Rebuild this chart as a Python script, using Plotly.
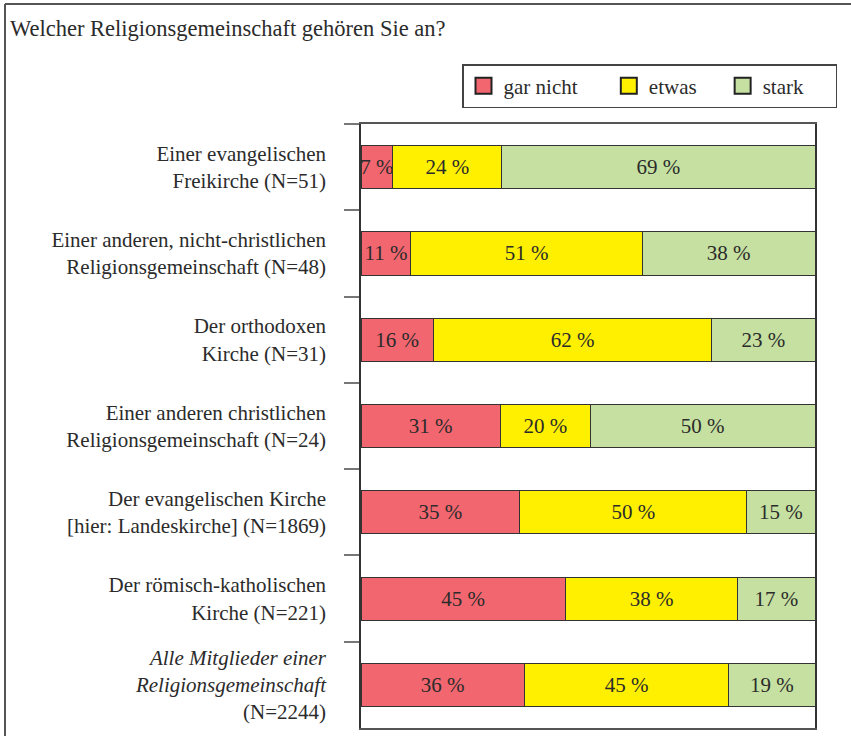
import plotly.graph_objects as go

categories = [
    "Einer evangelischen<br>Freikirche (N=51)",
    "Einer anderen, nicht-christlichen<br>Religionsgemeinschaft (N=48)",
    "Der orthodoxen<br>Kirche (N=31)",
    "Einer anderen christlichen<br>Religionsgemeinschaft (N=24)",
    "Der evangelischen Kirche<br>[hier: Landeskirche] (N=1869)",
    "Der römisch-katholischen<br>Kirche (N=221)",
    "<i>Alle Mitglieder einer<br>Religionsgemeinschaft</i><br>(N=2244)",
]

series_names = ["gar nicht", "etwas", "stark"]
gar_nicht = [7.0, 11.0, 15.9, 30.7, 35.0, 45.0, 36.0]
etwas = [24.0, 51.0, 61.4, 19.8, 50.0, 38.0, 45.0]
stark = [69.0, 38.0, 22.7, 49.5, 15.0, 17.0, 19.0]
gar_nicht_labels = ["7 %", "11 %", "16 %", "31 %", "35 %", "45 %", "36 %"]
etwas_labels = ["24 %", "51 %", "62 %", "20 %", "50 %", "38 %", "45 %"]
stark_labels = ["69 %", "38 %", "23 %", "50 %", "15 %", "17 %", "19 %"]
colors = ["#F2666F", "#FFF000", "#C5E0A0"]

FONT = "Liberation Serif"
TXT = "#2b2b2b"
FS = 21
legend_pad = ["\u00a0" * 5, "\u00a0" * 4, "\u00a0" * 5]

fig = go.Figure()
for name, vals, labels, col, pad in zip(series_names, [gar_nicht, etwas, stark],
                                        [gar_nicht_labels, etwas_labels, stark_labels],
                                        colors, legend_pad):
    fig.add_trace(go.Bar(
        x=vals, y=categories, orientation="h", name=name,
        text=labels, textposition="inside", insidetextanchor="middle",
        constraintext="none", textangle=0,
        textfont=dict(family=FONT, size=FS, color=TXT),
        marker=dict(color=col, line=dict(color="#333333", width=1)),
        showlegend=False, hoverinfo="skip",
    ))
    fig.add_trace(go.Scatter(
        x=[None], y=[None], mode="markers",
        name=name + pad,
        marker=dict(symbol="square", size=16, color=col, line=dict(color="#222222", width=2)),
        showlegend=True, hoverinfo="skip",
    ))

L, R, T, B = 361, 36, 124, 8
W, H = 851, 736
pw, ph = W - L - R, H - T - B

def px_x(p):
    return (p - L) / pw

def px_y(p):
    return (H - B - p) / ph

fig.update_layout(
    width=W, height=H,
    margin=dict(l=L, r=R, t=T, b=B),
    paper_bgcolor="white", plot_bgcolor="white",
    barmode="stack", bargap=0.5,
    font=dict(family=FONT, size=FS, color=TXT),
    title=dict(text="Welcher Religionsgemeinschaft gehören Sie an?",
               x=10 / W, xanchor="left", xref="container",
               y=1 - 28 / H, yanchor="middle", yref="container",
               font=dict(family=FONT, size=22.5, color=TXT)),
    legend=dict(orientation="h", x=px_x(462), y=px_y(64), xanchor="left", yanchor="top",
                traceorder="normal",
                bordercolor="#444444", borderwidth=1.5, itemsizing="trace",
                font=dict(family=FONT, size=FS, color=TXT), bgcolor="white"),
    xaxis=dict(range=[0, 100], showgrid=False, zeroline=False, showticklabels=False,
               ticks="", showline=True, mirror=True, linecolor="#555555", linewidth=1.5,
               fixedrange=True),
    yaxis=dict(categoryorder="array", categoryarray=categories, autorange="reversed",
               showgrid=False, zeroline=False, showline=True, mirror=True,
               linecolor="#333333", linewidth=1.5,
               ticks="outside", tickson="boundaries", ticklen=15, tickwidth=2,
               tickcolor="#777777", ticklabelstandoff=29,
               tickfont=dict(family=FONT, size=FS, color=TXT), fixedrange=True),
    shapes=[
        dict(type="line", xref="paper", yref="paper", x0=px_x(5), x1=px_x(851),
             y0=px_y(4), y1=px_y(4), line=dict(color="#555555", width=2)),
        dict(type="line", xref="paper", yref="paper", x0=px_x(5), x1=px_x(5),
             y0=px_y(4), y1=px_y(736), line=dict(color="#555555", width=2)),
    ],
)

fig.write_html("out.html", config={"displayModeBar": False},
               post_script="document.body.style.margin='0';")
